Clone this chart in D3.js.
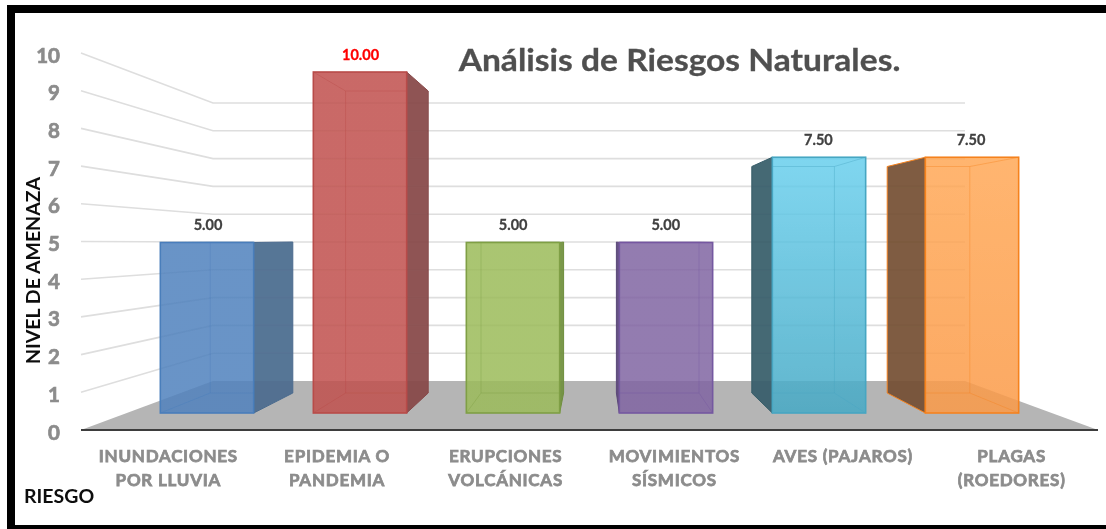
<!DOCTYPE html>
<html><head><meta charset="utf-8">
<script src="https://cdn.jsdelivr.net/npm/d3@7"></script>
<style>html,body{margin:0;padding:0;background:#fff}svg{display:block}text{font-family:Lato,"Open Sans",sans-serif;font-weight:700}</style>
</head><body><div id="chart"></div>
<script>
const categories = ["INUNDACIONES|POR LLUVIA","EPIDEMIA O|PANDEMIA","ERUPCIONES|VOLCÁNICAS","MOVIMIENTOS|SÍSMICOS","AVES (PAJAROS)","PLAGAS|(ROEDORES)"];
const values = [5,10,5,5,7.5,7.5];
const yTicks = [0,1,2,3,4,5,6,7,8,9,10];
const frontTop = ["#4F81BD","#C0504D","#9BBB59","#8064A2","#69CFED","#FFA856"];
const frontBottom = ["#4F81BD","#C0504D","#9BBB59","#8064A2","#46A9C5","#FB9A48"];
const edgeColors = ["#4A7EBB","#B84C49","#7F9F45","#7558A0","#46A6C2","#F5821F"];
const sideColors = ["#4A6A8E","#874848","#6F8F3D","#5A4678","#375D69","#745033"];
const labelColors = ["#404040","#FF0000","#404040","#404040","#404040","#404040"];
const title = "Análisis de Riesgos Naturales.";
const yTitle = "NIVEL DE AMENAZA", xTitle = "RIESGO";

const W=1106,H=529;
const svg=d3.select("#chart").append("svg").attr("width",W).attr("height",H);
const defs=svg.append("defs");
defs.append("filter").attr("id","soft").attr("x","-5%").attr("y","-5%").attr("width","110%").attr("height","110%")
  .append("feGaussianBlur").attr("stdDeviation",0.6);
categories.forEach((c,i)=>{
  const g=defs.append("linearGradient").attr("id","fg"+i).attr("x1",0).attr("x2",0).attr("y1",0).attr("y2",1);
  g.append("stop").attr("offset",0).attr("stop-color",frontTop[i]);
  g.append("stop").attr("offset",1).attr("stop-color",frontBottom[i]);
});

// frame
svg.append("rect").attr("x",7).attr("y",5).attr("width",W-7).attr("height",8).attr("fill","#000");
svg.append("rect").attr("x",7).attr("y",5).attr("width",8).attr("height",H-5).attr("fill","#000");
svg.append("rect").attr("x",7).attr("y",525).attr("width",W-7).attr("height",4).attr("fill","#000");

const root=svg.append("g").attr("filter","url(#soft)");

// scales
const wallFront=d3.scaleLinear().domain([0,10]).range([430,53]);
const wallBack=d3.scaleLinear().domain([0,10]).range([381,103]);
const floorFrontX=[81,1098], floorBackX=[213,965];
const barFrontY=d3.scaleLinear().domain([0,10]).range([413,72]);
const barBackY=d3.scaleLinear().domain([0,10]).range([393,91]);
const xFront=d3.scaleBand().domain(d3.range(6)).range([130.5,1048.5]).paddingInner(.39).paddingOuter(.195);
const xBack=d3.scaleBand().domain(d3.range(6)).range([183.8,996.2]).paddingInner(.39).paddingOuter(.195);
const xLabel=d3.scaleBand().domain(d3.range(6)).range([84,1096]);
const xValue=d3.scaleBand().domain(d3.range(6)).range([131.7,1047.3]);
const poly=p=>p.map(q=>q.join(",")).join(" ");

// floor
root.append("polygon").attr("fill","#B5B5B5")
  .attr("points",poly([[floorFrontX[0],430],[floorBackX[0],381],[floorBackX[1],381],[floorFrontX[1],430]]));

// gridlines
root.append("g").selectAll("polyline").data(yTicks.filter(d=>d>0)).join("polyline")
  .attr("fill","none").attr("stroke","#DEDEDE").attr("stroke-width",1.6)
  .attr("points",d=>poly([[floorFrontX[0],wallFront(d)],[floorBackX[0],wallBack(d)],[floorBackX[1],wallBack(d)]]));

// axis line
root.append("line").attr("x1",floorFrontX[0]).attr("x2",floorFrontX[1]).attr("y1",430).attr("y2",430)
  .attr("stroke","#3c3c3c").attr("stroke-width",2);

// y tick labels
root.append("g").selectAll("text").data(yTicks).join("text")
  .attr("x",60).attr("y",d=>wallFront(d)+9.5).attr("text-anchor","end")
  .attr("font-size",20.5).attr("fill","#8C8C8C").attr("stroke","#8C8C8C").attr("stroke-width",.7).text(d=>d);

// bars
const bars=root.append("g").selectAll("g").data(values).join("g");
bars.each(function(v,i){
  const g=d3.select(this);
  const fl=xFront(i),fr=fl+xFront.bandwidth(),bl=xBack(i),br=bl+xBack.bandwidth();
  const ft=barFrontY(v),fb=barFrontY(0),bt=barBackY(v),bb=barBackY(0);
  const edge=edgeColors[i];
  // dark side
  if(br>fr) g.append("polygon").attr("points",poly([[fr,ft],[br,bt],[br,bb],[fr,fb]]))
    .attr("fill",sideColors[i]).attr("fill-opacity",.93).attr("stroke",sideColors[i]).attr("stroke-width",1);
  if(bl<fl) g.append("polygon").attr("points",poly([[fl,ft],[bl,bt],[bl,bb],[fl,fb]]))
    .attr("fill",sideColors[i]).attr("fill-opacity",.93).attr("stroke",i>=5?edge:sideColors[i]).attr("stroke-width",1);
  // front
  g.append("rect").attr("x",fl).attr("y",ft).attr("width",fr-fl).attr("height",fb-ft)
    .attr("fill",`url(#fg${i})`).attr("fill-opacity",.85).attr("stroke",edge).attr("stroke-width",1.6);
  // edges seen through the front
  const inner=[];
  if(bl>fl) inner.push([[bl,bt],[bl,bb]],[[fl,fb],[bl,bb]],[[fl,ft],[bl,bt]]);
  if(br<fr) inner.push([[br,bt],[br,bb]],[[fr,fb],[br,bb]],[[fr,ft],[br,bt]]);
  inner.push([[Math.max(bl,fl),bt],[Math.min(br,fr),bt]],[[Math.max(bl,fl),bb],[Math.min(br,fr),bb]]);
  g.selectAll("polyline").data(inner).join("polyline").attr("fill","none")
    .attr("stroke",edge).attr("stroke-opacity",.4).attr("stroke-width",1).attr("points",d=>poly(d));
  // value label
  g.append("text").attr("x",xValue(i)+xValue.bandwidth()/2).attr("y",ft-12.5).attr("text-anchor","middle")
    .attr("font-size",14.5).attr("fill",labelColors[i]).attr("stroke",labelColors[i]).attr("stroke-width",.3).text(d3.format(".2f")(v));
});

// category labels
const cat=root.append("g").selectAll("text").data(categories).join("text")
  .attr("text-anchor","middle").attr("font-size",17).attr("letter-spacing",.75).attr("fill","#8C8C8C").attr("stroke","#8C8C8C").attr("stroke-width",.75);
cat.each(function(c,i){
  const x=xLabel(i)+xLabel.bandwidth()/2;
  c.split("|").forEach((l,k)=>d3.select(this).append("tspan").attr("x",x).attr("y",462+k*23.5).text(l));
});

// titles
root.append("text").attr("transform","translate(679.5,71) scale(1.12,1)").attr("text-anchor","middle").attr("font-size",30).attr("fill","#505050").attr("stroke","#505050").attr("stroke-width",.3).text(title);
root.append("text").attr("transform","translate(39.5,270.5) rotate(-90)").attr("text-anchor","middle").attr("font-size",19.5).attr("fill","#111").text(yTitle);
root.append("text").attr("x",24).attr("y",503).attr("font-size",19.5).attr("fill","#111").text(xTitle);
</script></body></html>
